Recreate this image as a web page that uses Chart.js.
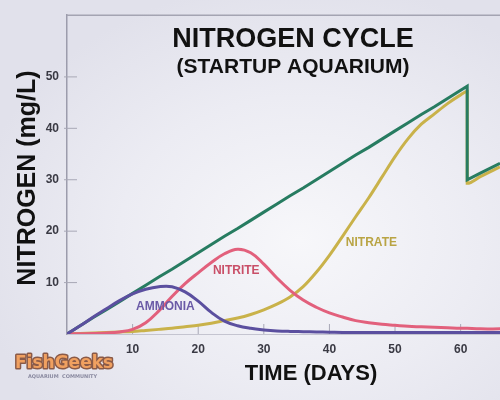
<!DOCTYPE html>
<html><head><meta charset="utf-8">
<script src="https://cdn.jsdelivr.net/npm/chart.js@4"></script>
<style>
html,body{margin:0;padding:0;}
body{width:500px;height:400px;overflow:hidden;background:radial-gradient(ellipse 330px 260px at 300px 240px,#f7f7fa 0%,#ececf3 55%,#e1e1eb 100%);}
#wrap{position:relative;width:500px;height:400px;}
</style></head><body>
<div id="wrap"><canvas id="c" width="500" height="400"></canvas></div>
<script>
const days    = [0,2,4,6,8,10,12,14,16,18,20,22,24,26,28,30,32,34,36,38,40,42,44,46,48,50,52,54,56,58,60,61,61,63,66];
const total   = [0,1.6,3.2,4.7,6.3,7.9,9.5,11.1,12.6,14.2,15.8,17.4,19,20.5,22.1,23.7,25.3,26.9,28.4,30,31.6,33.2,34.8,36.3,37.9,39.5,41.1,42.7,44.2,45.8,47.4,48.2,30,31.3,33.2];
const nitrate = [0,0.1,0.2,0.3,0.4,0.5,0.7,0.9,1.1,1.4,1.7,2.1,2.6,3.1,3.8,4.7,5.8,7.2,9.2,12,15.3,19,22.8,26.5,30.5,34.5,38,40.8,42.8,44.8,46.5,47.2,29.3,30.6,32.5];
const nitrite = [0,0.05,0.1,0.2,0.4,0.9,2.2,4.5,7.3,9.8,11.9,13.9,15.6,16.5,15.8,13.6,10.9,8.5,6.6,5.2,4.1,3.3,2.6,2.2,1.9,1.7,1.5,1.4,1.3,1.2,1.1,1.1,1.1,1.0,1.0];
const ammonia = [0,1.6,3.3,4.9,6.5,7.8,8.7,9.2,9.2,8.2,6.4,4.2,2.5,1.6,1.1,0.8,0.6,0.5,0.45,0.4,0.35,0.3,0.3,0.3,0.3,0.3,0.3,0.3,0.3,0.3,0.3,0.3,0.3,0.3,0.3];
const xTicks = [10,20,30,40,50,60];
const yTicks = [10,20,30,40,50];
const seriesLabels = [
  {text:'NITRITE', day:25.8, val:12.4, color:'#c94f68'},
  {text:'AMMONIA', day:15, val:5.4, color:'#6a5aa6'},
  {text:'NITRATE', day:46.4, val:17.7, color:'#b9a444'}
];
const titleText = 'NITROGEN CYCLE';
const subtitleText = '(STARTUP AQUARIUM)';
const xTitle = 'TIME (DAYS)';
const yTitle = 'NITROGEN (mg/L)';

const pts = arr => arr.map((v,i)=>({x:days[i], y:v}));
const FONT = '"Liberation Sans", Arial, sans-serif';

const deco = {
  id:'deco',
  beforeDatasetsDraw(chart){
    const ctx = chart.ctx, xs = chart.scales.x, ys = chart.scales.y, a = chart.chartArea;
    ctx.save();
    ctx.strokeStyle = '#a4a4b2'; ctx.lineWidth = 1.5;
    ctx.beginPath(); ctx.moveTo(a.left, a.top); ctx.lineTo(a.right, a.top); ctx.stroke();
    ctx.strokeStyle = '#a8a8b6'; ctx.lineWidth = 1;
    yTicks.forEach(v=>{ const y = ys.getPixelForValue(v); ctx.beginPath(); ctx.moveTo(a.left-3, y); ctx.lineTo(a.left+10, y); ctx.stroke(); });
    xTicks.forEach(v=>{ const x = xs.getPixelForValue(v); ctx.beginPath(); ctx.moveTo(x, a.bottom); ctx.lineTo(x, a.bottom-10); ctx.stroke(); });
    ctx.restore();
  },
  afterDatasetsDraw(chart){
    const ctx = chart.ctx, xs = chart.scales.x, ys = chart.scales.y;
    ctx.save();
    ctx.textAlign = 'center'; ctx.textBaseline = 'middle';
    ctx.fillStyle = '#111';
    ctx.font = 'bold 27px ' + FONT;
    ctx.fillText(titleText, 293, 40);
    ctx.font = 'bold 21px ' + FONT;
    ctx.fillText(subtitleText, 293, 67);
    ctx.font = 'bold 22px ' + FONT;
    ctx.fillText(xTitle, 311, 374);
    ctx.save();
    ctx.translate(28, 178); ctx.rotate(-Math.PI/2);
    ctx.font = 'bold 25px ' + FONT;
    ctx.fillText(yTitle, 0, 0);
    ctx.restore();
    ctx.font = 'bold 12px ' + FONT;
    seriesLabels.forEach(l=>{ ctx.fillStyle = l.color; ctx.fillText(l.text, xs.getPixelForValue(l.day), ys.getPixelForValue(l.val)); });
    ctx.font = 'bold 17px "DejaVu Sans", sans-serif';
    ctx.textAlign = 'left';
    ctx.lineWidth = 3; ctx.strokeStyle = '#8a5a48'; ctx.lineJoin='round';
    ctx.strokeText('FishGeeks', 15, 364);
    ctx.fillStyle = '#f0a060';
    ctx.fillText('FishGeeks', 15, 364);
    ctx.fillStyle = '#8a8aa0';
    ctx.font = 'bold 5px "DejaVu Sans", sans-serif';
    ctx.fillText('AQUARIUM  COMMUNITY', 28, 377);
    ctx.restore();
  }
};

new Chart(document.getElementById('c'), {
  type:'line',
  data:{datasets:[
    {label:'Ammonia', data:pts(ammonia), borderColor:'#5b4f9f', borderWidth:3, pointRadius:0, tension:0.4, order:0},
    {label:'Nitrite', data:pts(nitrite), borderColor:'#e2607c', borderWidth:3, pointRadius:0, tension:0.4, order:1},
    {label:'Total', data:pts(total), borderColor:'#277c61', borderWidth:3, pointRadius:0, tension:0, order:2},
    {label:'Nitrate', data:pts(nitrate), borderColor:'#c9b24a', borderWidth:3, pointRadius:0, cubicInterpolationMode:'monotone', order:3}
  ]},
  options:{
    responsive:false, animation:false,
    layout:{padding:{top:15,right:0,left:0,bottom:0}},
    plugins:{legend:{display:false}, tooltip:{enabled:false}, title:{display:false}},
    scales:{
      x:{type:'linear', min:0, max:66,
        afterBuildTicks(s){ s.ticks = xTicks.map(v=>({value:v})); },
        afterFit(s){ s.height = 66; },
        grid:{display:false, drawTicks:false},
        border:{display:true, color:'#c4c4d0', width:1},
        ticks:{padding:8, color:'#3a3a44', font:{family:FONT, size:12, weight:'bold'}, maxRotation:0}
      },
      y:{type:'linear', min:0, max:62,
        afterBuildTicks(s){ s.ticks = yTicks.map(v=>({value:v})); },
        afterFit(s){ s.width = 67; },
        grid:{display:false, drawTicks:false},
        border:{display:true, color:'#9c9cac', width:1.5},
        ticks:{padding:8, color:'#3a3a44', font:{family:FONT, size:12, weight:'bold'}}
      }
    }
  },
  plugins:[deco]
});
</script></body></html>
